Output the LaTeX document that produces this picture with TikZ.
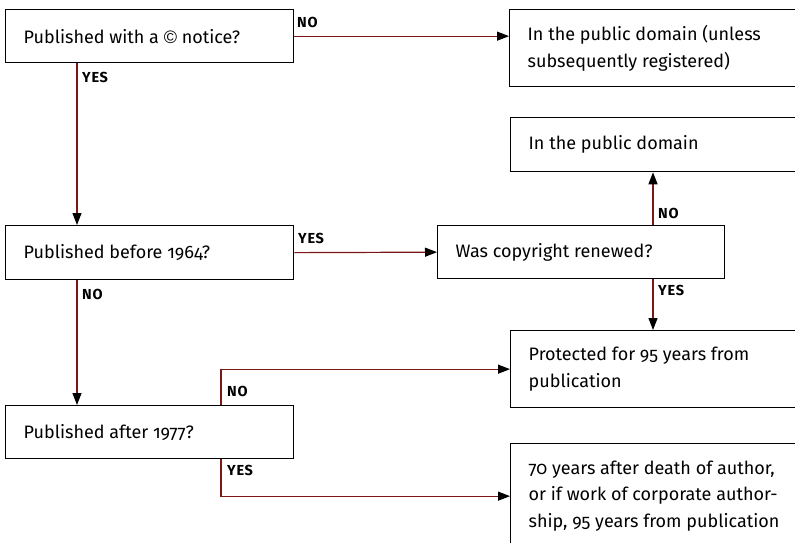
\documentclass[tikz,border=0pt]{standalone}
\usepackage{fontspec}
\setmainfont[Numbers=OldStyle]{Fira Sans}
\newfontfamily\lblfont[LetterSpace=5]{Fira Sans}
\newfontfamily\copyfont{Liberation Sans}
\usetikzlibrary{arrows.meta,calc}
\definecolor{conn}{RGB}{122,24,24}
\newcommand{\bodyfnt}{\fontsize{18}{26.5}\selectfont}
\newcommand{\lblfnt}{\lblfont\bfseries\fontsize{14.5}{16}\selectfont}
\begin{document}
\begin{tikzpicture}[x=1pt,y=-1pt,
  box/.style={draw=black,line width=1.3pt,rectangle,anchor=north west,
    inner xsep=18pt,inner ysep=0pt,align=flush left,font=\bodyfnt},
  lbl/.style={anchor=west,inner sep=0pt,font=\lblfnt},
  cn/.style={draw=conn,line width=1.2pt,-{Triangle[length=12pt,width=9pt,color=black]}}]
\useasboundingbox (0,0) rectangle (795,543);
\clip (0,0) rectangle (795,543);
\fill[white] (0,0) rectangle (795,543);

\node[box,minimum width=288pt,minimum height=53pt,text width=252pt] (b1) at (5,9) {Published with a {\copyfont ©} notice?};
\node[box,minimum width=310pt,minimum height=77pt,text width=274pt] (r1) at (509,9) {In the public domain (unless\\subsequently registered)};
\node[box,minimum width=310pt,minimum height=54pt,text width=274pt] (r2) at (510,117) {In the public domain};
\node[box,minimum width=288pt,minimum height=54pt,text width=252pt] (b2) at (5,225) {Published before 1964?};
\node[box,minimum width=287pt,minimum height=53pt,text width=251pt] (cr) at (437,225) {Was copyright renewed?};
\node[box,minimum width=310pt,minimum height=77pt,text width=274pt] (r3) at (510,330) {Protected for 95 years from\\publication};
\node[box,minimum width=288pt,minimum height=53pt,text width=252pt] (b3) at (5,405) {Published after 1977?};
\node[box,minimum width=310pt,minimum height=105pt,text width=274pt] (r4) at (510,443) {70 years after death of author,\\or if work of corporate author-\\ship, 95 years from publication};

\coordinate (c1) at ($(b1.south west)+(72,0)$);
\coordinate (c2) at ($(b2.south west)+(72,0)$);
\coordinate (c3) at ($(cr.north west)+(216,0)$);
\coordinate (c4) at ($(cr.south west)+(216,0)$);
\coordinate (c5) at ($(b3.north west)+(216,0)$);
\coordinate (c6) at ($(b3.south west)+(216,0)$);

\draw[cn] (b1.east) -- (b1.east -| r1.west);
\draw[cn] (c1) -- (c1 |- b2.north);
\draw[cn] (b2.east) -- (cr.west);
\draw[cn] (c2) -- (c2 |- b3.north);
\draw[cn] (c3) -- (c3 |- r2.south);
\draw[cn] (c4) -- (c4 |- r3.north);
\draw[cn] (c5) |- (r3.west);
\draw[cn] (c6) |- (r4.west);

\node[lbl] (l1) at (297,22.5) {NO};
\node[lbl] (l2) at (82,77.5) {YES};
\node[lbl] (l3) at (298,238) {YES};
\node[lbl] (l4) at (82,294) {NO};
\node[lbl] (l5) at (658,213) {NO};
\node[lbl] (l6) at (658,290) {YES};
\node[lbl] (l7) at (227,391) {NO};
\node[lbl] (l8) at (227,470) {YES};
\end{tikzpicture}
\end{document}
